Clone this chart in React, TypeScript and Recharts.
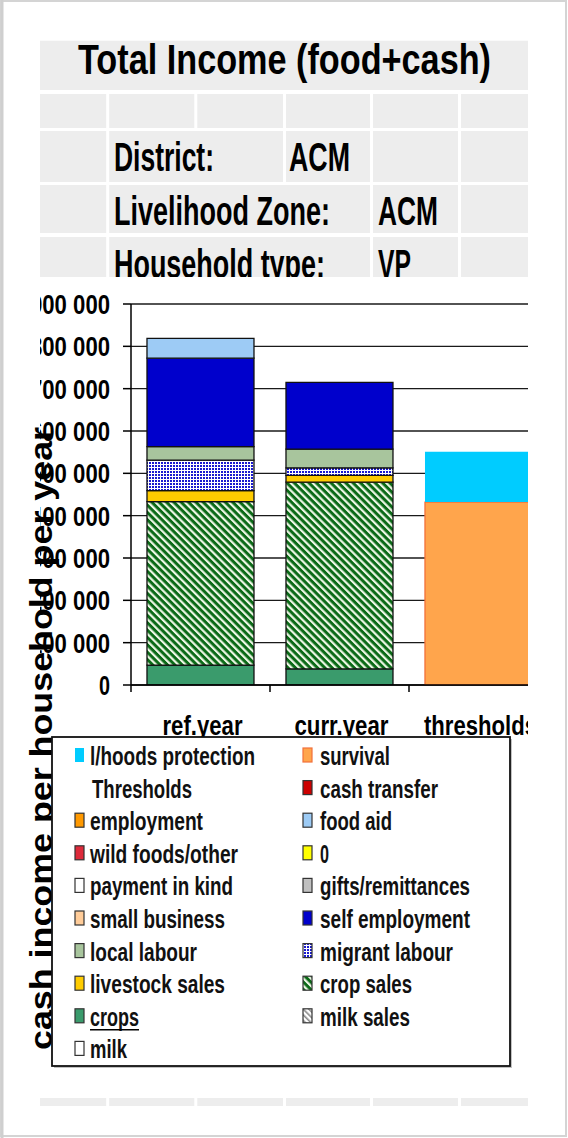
import React from 'react';
import { BarChart, Bar, XAxis, YAxis, CartesianGrid } from 'recharts';

// ---------- data ----------
const categories = ['ref.year', 'curr.year', 'thresholds'];
const milk = [0, 0, 0];
const milkSales = [0, 0, 0];
const crops = [47000, 38000, 0];
const cropSales = [386000, 441000, 0];
const livestockSales = [26000, 16000, 0];
const migrantLabour = [72000, 18000, 0];
const localLabour = [32000, 44000, 0];
const selfEmployment = [209000, 158000, 0];
const smallBusiness = [0, 0, 0];
const giftsRemittances = [0, 0, 0];
const paymentInKind = [0, 0, 0];
const zeroSeries = [0, 0, 0];
const wildFoods = [0, 0, 0];
const foodAid = [47000, 0, 0];
const employment = [0, 0, 0];
const cashTransfer = [0, 0, 0];
const survival = [0, 0, 432000];
const lhoodsProtection = [0, 0, 119000];

const yTicks = [0, 100000, 200000, 300000, 400000, 500000, 600000, 700000, 800000, 900000];

const titleText = 'Total Income (food+cash)';
const headerLabels = ['District:', 'Livelihood Zone:', 'Household type:'];
const headerValues = ['ACM', 'ACM', 'VP'];
const yAxisTitle = 'cash income per household per year';

const legendLeft = ['l/hoods protection', 'Thresholds', 'employment', 'wild foods/other', 'payment in kind', 'small business', 'local labour', 'livestock sales', 'crops', 'milk'];
const legendRight = ['survival', 'cash transfer', 'food aid', '0', 'gifts/remittances', 'self employment', 'migrant labour', 'crop sales', 'milk sales'];

// ---------- styles ----------
const FONT = "'Liberation Sans Narrow', 'Liberation Sans', Arial, sans-serif";
const GREY = '#EDEDED';

const seriesDefs = [
  { key: 'milk', values: milk, fill: '#FFFFFF', stroke: '#111' },
  { key: 'milk sales', values: milkSales, fill: 'url(#pMilkSales)', stroke: '#111' },
  { key: 'crops', values: crops, fill: '#3A9B6C', stroke: '#111' },
  { key: 'crop sales', values: cropSales, fill: 'url(#pCropSales)', stroke: '#111' },
  { key: 'livestock sales', values: livestockSales, fill: '#FFCC00', stroke: '#111' },
  { key: 'migrant labour', values: migrantLabour, fill: 'url(#pMigrant)', stroke: '#111' },
  { key: 'local labour', values: localLabour, fill: '#A8C59D', stroke: '#111' },
  { key: 'self employment', values: selfEmployment, fill: '#0000CC', stroke: '#111' },
  { key: 'small business', values: smallBusiness, fill: '#FFCC99', stroke: '#111' },
  { key: 'gifts/remittances', values: giftsRemittances, fill: '#C0C0C0', stroke: '#111' },
  { key: 'payment in kind', values: paymentInKind, fill: '#FFFFFF', stroke: '#111' },
  { key: '0', values: zeroSeries, fill: '#FFFF00', stroke: '#111' },
  { key: 'wild foods/other', values: wildFoods, fill: '#DD2A3A', stroke: '#111' },
  { key: 'food aid', values: foodAid, fill: '#9DCBF5', stroke: '#111' },
  { key: 'employment', values: employment, fill: '#FF9900', stroke: '#111' },
  { key: 'cash transfer', values: cashTransfer, fill: '#CC0000', stroke: '#111' },
  { key: 'survival', values: survival, fill: '#FFA54C', stroke: '#F2703A' },
  { key: 'l/hoods protection', values: lhoodsProtection, fill: '#00CCFF', stroke: 'none' },
];

const legendStyle: Record<string, { fill: string; stroke: string } | null> = {
  'l/hoods protection': { fill: '#00CCFF', stroke: 'none' },
  Thresholds: null,
  employment: { fill: '#FF9900', stroke: '#333' },
  'wild foods/other': { fill: '#DD2A3A', stroke: '#333' },
  'payment in kind': { fill: '#FFFFFF', stroke: '#333' },
  'small business': { fill: '#FFCC99', stroke: '#333' },
  'local labour': { fill: '#A8C59D', stroke: '#333' },
  'livestock sales': { fill: '#FFCC00', stroke: '#333' },
  crops: { fill: '#3A9B6C', stroke: '#333' },
  milk: { fill: '#FFFFFF', stroke: '#333' },
  survival: { fill: '#FFA54C', stroke: '#F2703A' },
  'cash transfer': { fill: '#CC0000', stroke: '#333' },
  'food aid': { fill: '#9DCBF5', stroke: '#333' },
  '0': { fill: '#FFFF00', stroke: '#333' },
  'gifts/remittances': { fill: '#C0C0C0', stroke: '#333' },
  'self employment': { fill: '#0000CC', stroke: '#333' },
  'migrant labour': { fill: 'url(#pMigrant)', stroke: '#333' },
  'crop sales': { fill: 'url(#pCropSales)', stroke: '#333' },
  'milk sales': { fill: 'url(#pMilkSales)', stroke: '#333' },
};

const legendWidths: Record<string, number> = {
  'l/hoods protection': 165, Thresholds: 100, employment: 113, 'wild foods/other': 148,
  'payment in kind': 143, 'small business': 135, 'local labour': 107, 'livestock sales': 135,
  crops: 49, milk: 37, survival: 70, 'cash transfer': 118, 'food aid': 72, '0': 9,
  'gifts/remittances': 150, 'self employment': 150, 'migrant labour': 133, 'crop sales': 92, 'milk sales': 90,
};

const catWidths: Record<string, number> = { 'ref.year': 80, 'curr.year': 94, thresholds: 113 };

const data = categories.map((name, i) => {
  const row: Record<string, any> = { name };
  seriesDefs.forEach((s) => { row[s.key] = s.values[i]; });
  return row;
});

const fmt = (v: number) => (v === 0 ? '0' : `${Math.round(v / 1000)} 000`);

const YTick = (props: any) => {
  const { x, y, payload } = props;
  const label = fmt(payload.value);
  return (
    <text x={x} y={y} dy={10} textAnchor="end" fontSize={28} fontWeight="bold" fontFamily={FONT}
      fill="#000" textLength={label.length === 1 ? 11 : 80} lengthAdjust="spacingAndGlyphs">{label}</text>
  );
};

const XTick = (props: any) => {
  const { x, y, payload } = props;
  const off = payload && typeof payload.offset === 'number' ? payload.offset : props.width / (props.visibleTicksCount || 3) / 2;
  const label = String(payload.value);
  return (
    <g>
      <line x1={x - off} x2={x - off} y1={y} y2={y + 7} stroke="#000" strokeWidth={1.5} />
      <text x={x + 2} y={y + 50} textAnchor="middle" fontSize={27} fontWeight="bold" fontFamily={FONT}
        fill="#000" textLength={catWidths[label] || 90} lengthAdjust="spacingAndGlyphs">{label}</text>
    </g>
  );
};

const STxt = ({ x, y, w, size, children, weight = 'bold' }: any) => (
  <text x={x} y={y} fontSize={size} fontWeight={weight} fontFamily={FONT} fill="#000"
    textLength={w} lengthAdjust="spacingAndGlyphs">{children}</text>
);

const cellCols: [number, number][] = [[40, 106.2], [109.2, 194.3], [197.3, 283], [286, 370], [373, 458], [461, 528]];

const App = () => {
  const rowsSpec = [
    { y0: 94, y1: 128, cells: cellCols },
    { y0: 131, y1: 182, cells: [cellCols[0], [109.2, 283], cellCols[3], cellCols[4], cellCols[5]] as [number, number][] },
    { y0: 185, y1: 233, cells: [cellCols[0], [109.2, 370], cellCols[4], cellCols[5]] as [number, number][] },
    { y0: 237, y1: 277, cells: [cellCols[0], [109.2, 370], cellCols[4], cellCols[5]] as [number, number][] },
    { y0: 1098, y1: 1106, cells: cellCols },
  ];
  const headerPos = [
    { y: 171, lw: 100, vx: 289, vw: 61 },
    { y: 225, lw: 216, vx: 378, vw: 60 },
    { y: 278, lw: 211, vx: 378, vw: 33 },
  ];
  const rowY = (i: number) => 765 + 32.6 * i;

  return (
    <div style={{ position: 'absolute', left: 0, top: 0, width: 568, height: 1138, background: '#fff', overflow: 'hidden' }}>
      {/* base layer: header, y title */}
      <svg width={568} height={1138} style={{ position: 'absolute', left: 0, top: 0 }}>
        <defs>
          <pattern id="pCropSales" patternUnits="userSpaceOnUse" width="5.2" height="5.2" patternTransform="rotate(-45)">
            <rect width="5.2" height="5.2" fill="#0B6A17" />
            <rect width="2.2" height="5.2" fill="#EEF7E6" />
          </pattern>
          <pattern id="pMigrant" patternUnits="userSpaceOnUse" width="3" height="3">
            <rect width="3" height="3" fill="#FFFFFF" />
            <rect x="1" y="1" width="2" height="2" fill="#1A1ACF" />
          </pattern>
          <pattern id="pMilkSales" patternUnits="userSpaceOnUse" width="4" height="4" patternTransform="rotate(-45)">
            <rect width="4" height="4" fill="#FFFFFF" />
            <rect width="1.6" height="4" fill="#888888" />
          </pattern>
        </defs>
        <rect x={40} y={40.7} width={488} height={49.3} fill={GREY} />
        {rowsSpec.map((r, ri) => r.cells.map((c, ci) => (
          <rect key={`${ri}-${ci}`} x={c[0]} y={r.y0} width={c[1] - c[0]} height={r.y1 - r.y0} fill={GREY} />
        )))}
        <STxt x={78} y={74} w={413} size={43}>{titleText}</STxt>
        {headerLabels.map((l, i) => (
          <g key={l}>
            <STxt x={114} y={headerPos[i].y} w={headerPos[i].lw} size={40}>{l}</STxt>
            <STxt x={headerPos[i].vx} y={headerPos[i].y} w={headerPos[i].vw} size={40}>{headerValues[i]}</STxt>
          </g>
        ))}
        <rect x={0} y={277} width={568} height={40} fill="#fff" />
        <text transform="translate(52,1050) rotate(-90)" fontSize={31} fontWeight="bold" fontFamily={FONT}
          fill="#000" textLength={623} lengthAdjust="spacingAndGlyphs">{yAxisTitle}</text>
      </svg>

      {/* chart */}
      <div style={{ position: 'absolute', left: 40, top: 278, width: 488, height: 459, overflow: 'hidden' }}>
        <BarChart width={520} height={467} data={data} margin={{ top: 26, right: 12, left: 0, bottom: 0 }}
          barCategoryGap="11.5%">
          <CartesianGrid vertical={false} stroke="#1a1a1a" strokeWidth={1.4} />
          <XAxis dataKey="name" height={60} axisLine={{ stroke: '#000', strokeWidth: 1.5 }} tickLine={false}
            tickSize={0} tickMargin={0} tick={<XTick />} interval={0} />
          <YAxis width={91} domain={[0, 900000]} ticks={yTicks} interval={0} allowDataOverflow
            axisLine={{ stroke: '#000', strokeWidth: 1.5 }} tickLine={{ stroke: '#000', strokeWidth: 1.5 }}
            tickSize={8} tickMargin={13} tick={<YTick />} />
          {seriesDefs.map((s) => (
            <Bar key={s.key} dataKey={s.key} stackId="a" fill={s.fill} stroke={s.stroke}
              strokeWidth={s.stroke === 'none' ? 0 : 1.3} isAnimationActive={false} />
          ))}
        </BarChart>
      </div>

      {/* overlay: legend + frame */}
      <svg width={568} height={1138} style={{ position: 'absolute', left: 0, top: 0, pointerEvents: 'none' }}>
        <rect x={54} y={739} width={458} height={329} fill="#9a9a9a" opacity={0.6} />
        <rect x={52} y={737} width={458} height={329} fill="#fff" stroke="#111" strokeWidth={1.8} />
        {legendLeft.map((l, i) => {
          const st = legendStyle[l];
          const y = rowY(i);
          return (
            <g key={l}>
              {st && <rect x={75} y={y - 17} width={9} height={14} fill={st.fill} stroke={st.stroke} strokeWidth={1.2} />}
              <text x={st ? 90 : 92} y={y} fontSize={26} fontWeight="bold" fontFamily={FONT} fill="#111"
                textLength={legendWidths[l]} lengthAdjust="spacingAndGlyphs">{l}</text>
              {l === 'crops' && <line x1={90} x2={139} y1={y + 4} y2={y + 4} stroke="#000" strokeWidth={1.5} />}
            </g>
          );
        })}
        {legendRight.map((l, i) => {
          const st = legendStyle[l];
          const y = rowY(i);
          return (
            <g key={l}>
              {st && <rect x={303} y={y - 17} width={9} height={14} fill={st.fill} stroke={st.stroke} strokeWidth={1.2} />}
              <text x={320} y={y} fontSize={26} fontWeight="bold" fontFamily={FONT} fill="#111"
                textLength={legendWidths[l]} lengthAdjust="spacingAndGlyphs">{l}</text>
            </g>
          );
        })}
        <rect x={1} y={1} width={565} height={1135} fill="none" stroke="#d4d4d4" strokeWidth={2} />
        <line x1={2} x2={2} y1={0} y2={1138} stroke="#cfcfcf" strokeWidth={3} />
      </svg>
    </div>
  );
};

export default App;
